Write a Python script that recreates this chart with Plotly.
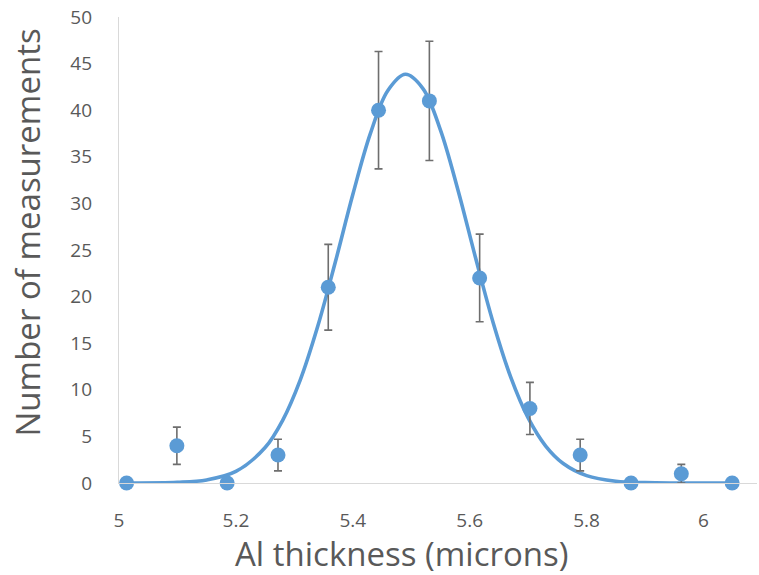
import plotly.graph_objects as go

# Measured data (bin centres, counts, error bar half-widths)
thickness = [5.013, 5.099, 5.185, 5.272, 5.358, 5.444, 5.531, 5.617, 5.703, 5.789, 5.876, 5.962, 6.049]
counts = [0, 4, 0, 3, 21, 40, 41, 22, 8, 3, 0, 1, 0]
errors = [0, 2.0, 0, 1.7, 4.6, 6.3, 6.4, 4.7, 2.8, 1.7, 0, 1.0, 0]

# Fitted curve
fit_x = [5.013, 5.10, 5.15, 5.20, 5.25, 5.28, 5.31, 5.34, 5.37, 5.40, 5.43, 5.46, 5.49,
         5.52, 5.55, 5.58, 5.61, 5.64, 5.67, 5.70, 5.73, 5.76, 5.80, 5.85, 5.90, 5.95, 6.049]
fit_y = [0.0, 0.07, 0.33, 1.24, 3.81, 6.73, 11.04, 16.81, 23.68, 30.95, 37.49, 42.11, 43.85,
         42.32, 37.87, 31.42, 24.17, 17.23, 11.39, 6.98, 3.96, 2.09, 0.79, 0.19, 0.04, 0.0, 0.0]

x_ticks = [5, 5.2, 5.4, 5.6, 5.8, 6]
x_tick_labels = ["5", "5.2", "5.4", "5.6", "5.8", "6"]
y_ticks = [0, 5, 10, 15, 20, 25, 30, 35, 40, 45, 50]

BLUE = "#5B9BD5"
GREY = "#595959"
FONT = "Open Sans"

fig = go.Figure()
fig.add_trace(go.Scatter(
    x=fit_x, y=fit_y, mode="lines",
    line=dict(color=BLUE, width=3.6, shape="spline", smoothing=1.0),
    hoverinfo="skip", showlegend=False, cliponaxis=False,
))
fig.add_trace(go.Scatter(
    x=thickness, y=counts, mode="markers",
    marker=dict(color=BLUE, size=15),
    error_y=dict(type="data", array=errors, visible=True, color="#6E6E6E",
                 thickness=1.6, width=4),
    showlegend=False, cliponaxis=False,
))

fig.update_layout(
    width=759, height=575,
    margin=dict(l=119, r=2, t=17, b=92),
    paper_bgcolor="white", plot_bgcolor="white",
    font=dict(family=FONT, color=GREY, size=19),
    xaxis=dict(
        range=[5, 6.0915], tickmode="array", tickvals=x_ticks, ticktext=x_tick_labels,
        showgrid=False, zeroline=False, showline=True, linecolor="#D9D9D9", linewidth=1.3,
        ticks="", ticklabelstandoff=20,
        tickfont=dict(family=FONT, size=19, color=GREY),
    ),
    yaxis=dict(
        range=[0, 50], tickmode="array", tickvals=y_ticks,
        showgrid=False, zeroline=False, showline=True, linecolor="#D9D9D9", linewidth=1.3,
        ticks="", ticklabelstandoff=22,
        tickfont=dict(family=FONT, size=19, color=GREY),
    ),
    annotations=[
        dict(text="Al thickness (microns)", xref="paper", yref="paper",
             x=0.4428, y=-0.152, xanchor="center", yanchor="middle", showarrow=False,
             font=dict(family=FONT, size=33, color=GREY)),
        dict(text="Number of measurements", xref="paper", yref="paper",
             x=-0.1442, y=0.5376, xanchor="center", yanchor="middle", showarrow=False,
             textangle=-90, font=dict(family=FONT, size=33, color=GREY)),
    ],
)

fig.write_html("out.html")
